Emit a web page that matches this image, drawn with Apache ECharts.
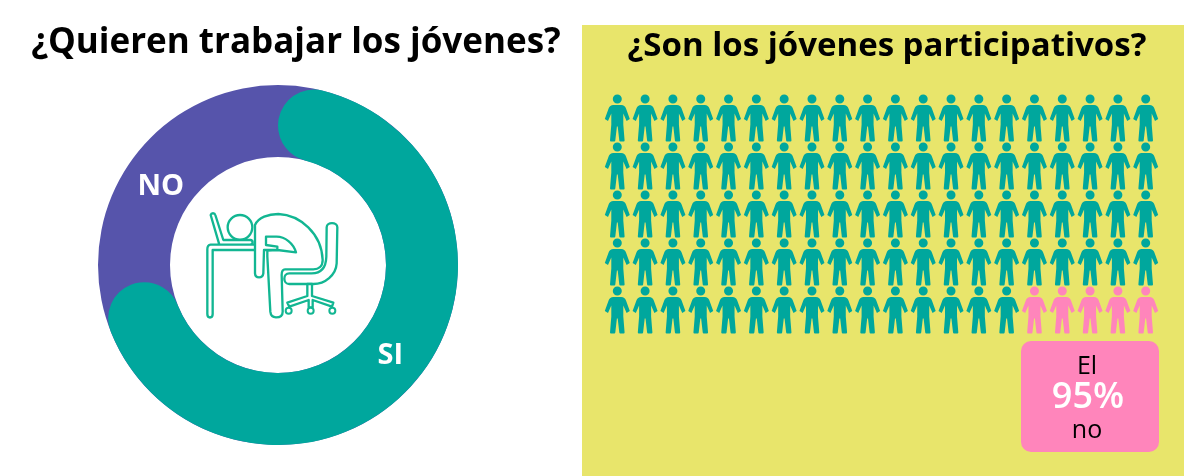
<!DOCTYPE html>
<html>
<head>
<meta charset="utf-8">
<style>
  html, body { margin: 0; padding: 0; background: #fff; }
  #chart { width: 1184px; height: 476px; }
</style>
<script src="https://cdn.jsdelivr.net/npm/echarts@6/dist/echarts.min.js"></script>
</head>
<body>
<div id="chart"></div>
<script>
// datos
const workLabels = ['SI', 'NO'];
const workValues = [73, 27];
const peopleCounts = [95, 5];
const peoplePerRow = 20;
const peopleRows = 5;
const boxLines = ['El', '95%', 'no'];

const TEAL = '#00a79d';
const PURPLE = '#5654ab';
const YELLOW = '#e8e56b';
const PINK = '#ff85bb';
const ICON = '#12b692';
const FONT = '"Open Sans", sans-serif';

// silueta de persona
const PERSON = 'path://M12.5,0 A4.5,4.5 0 1 1 12.5,9 A4.5,4.5 0 1 1 12.5,0 Z ' +
  'M8.5,10.5 L16.5,10.5 Q20,10.5 21.2,14 L25,24.5 L21.8,26.5 L18.5,19 L18.5,30 L19.8,46 Q19.8,47 18.8,47 L15.5,47 Q14.6,47 14.5,46 L12.9,32 L12.1,32 L10.5,46 Q10.4,47 9.5,47 L6.2,47 Q5.2,47 5.2,46 L6.5,30 L6.5,19 L3.2,26.5 L0,24.5 L3.8,14 Q5,10.5 8.5,10.5 Z';

// cuadricula de personas: primero las teal, despues las rosas
const tealPeople = [];
const pinkPeople = [];
for (let i = 0; i < peopleCounts[0] + peopleCounts[1]; i++) {
  const p = [i % peoplePerRow, Math.floor(i / peoplePerRow)];
  (i < peopleCounts[0] ? tealPeople : pinkPeople).push(p);
}

// icono del escritorio, coordenadas en unidades del dibujo
// el componente graphic no acepta type 'path', hay que registrar cada forma
let iconCount = 0;
function iconPath(d) {
  const name = 'iconShape' + (iconCount++);
  echarts.graphic.registerShape(name, echarts.graphic.extendPath(d));
  return {
    type: name,
    style: { fill: '#fff', stroke: ICON, lineWidth: 7, lineJoin: 'round' }
  };
}
function iconWheel(cx) {
  return {
    type: 'circle',
    shape: { cx: cx, cy: 362, r: 9 },
    style: { fill: '#fff', stroke: ICON, lineWidth: 6 }
  };
}

const chart = echarts.init(document.getElementById('chart'));

chart.setOption({
  animation: false,
  backgroundColor: '#fff',
  title: [
    {
      text: '¿Quieren trabajar los jóvenes?',
      left: 291, top: 21, textAlign: 'center',
      textStyle: { fontFamily: FONT, fontSize: 35, fontWeight: 700, color: '#000' }
    },
    {
      text: '¿Son los jóvenes participativos?',
      left: 882, top: 25, textAlign: 'center',
      textStyle: { fontFamily: FONT, fontSize: 33, fontWeight: 700, color: '#000' }
    }
  ],
  grid: { left: 617.3, top: 118, width: 528.4, height: 192 },
  xAxis: { type: 'value', min: 0, max: peoplePerRow - 1, show: false },
  yAxis: { type: 'value', min: 0, max: peopleRows - 1, inverse: true, show: false },
  series: [
    // anillo morado completo debajo, sin costuras
    {
      type: 'pie',
      center: [278, 265],
      radius: [108, 180],
      startAngle: 90,
      silent: true,
      label: { show: false },
      labelLine: { show: false },
      itemStyle: { color: PURPLE },
      data: [{ name: 'total', value: workValues[0] + workValues[1] }]
    },
    {
      type: 'pie',
      center: [278, 265],
      radius: [108, 180],
      startAngle: 90,
      silent: true,
      labelLine: { show: false },
      label: {
        show: true, position: 'inside', color: '#fff',
        fontFamily: FONT, fontSize: 29, fontWeight: 700, formatter: '{b}'
      },
      data: [
        {
          name: workLabels[0], value: workValues[0],
          itemStyle: { color: TEAL, borderRadius: 36 },
          label: { offset: [2, -6] }
        },
        {
          name: workLabels[1], value: workValues[1],
          itemStyle: { color: 'transparent' },
          label: { offset: [-7, 19] }
        }
      ]
    },
    {
      type: 'scatter', symbol: PERSON, symbolSize: [25, 47], silent: true,
      itemStyle: { color: TEAL, opacity: 1 }, data: tealPeople
    },
    {
      type: 'scatter', symbol: PERSON, symbolSize: [25, 47], silent: true,
      itemStyle: { color: PINK, opacity: 1 }, data: pinkPeople
    }
  ],
  graphic: [
    {
      type: 'rect', z: 0,
      shape: { x: 582, y: 25, width: 602, height: 451 },
      style: { fill: YELLOW }
    },
    {
      type: 'rect', z: 1,
      shape: { x: 1021, y: 341, width: 138, height: 111, r: 10 },
      style: { fill: PINK }
    },
    {
      type: 'text', z: 3, x: 1087, y: 367,
      style: { text: boxLines[0], fontFamily: FONT, fontSize: 25, fill: '#000', align: 'center', verticalAlign: 'middle' }
    },
    {
      type: 'text', z: 3, x: 1088, y: 398,
      style: { text: boxLines[1], fontFamily: FONT, fontSize: 36, fontWeight: 600, fill: '#fff', align: 'center', verticalAlign: 'middle' }
    },
    {
      type: 'text', z: 3, x: 1087, y: 431,
      style: { text: boxLines[2], fontFamily: FONT, fontSize: 25, fill: '#000', align: 'center', verticalAlign: 'middle' }
    },
    {
      type: 'group', x: 190, y: 190, scaleX: 1 / 3, scaleY: 1 / 3, z: 3,
      children: [
        // respaldo y asiento
        iconPath('M410,112 C410,95 442,95 442,112 L440,220 C438,255 405,282 370,282 L298,282 C278,282 278,250 298,250 L365,250 C395,250 408,230 409,200 Z'),
        // patas de la silla
        iconPath('M352,282 L366,282 L366,318 L430,338 L426,350 L368,330 L368,352 L356,352 L356,330 L298,350 L292,338 L352,318 Z'),
        iconWheel(296), iconWheel(362), iconWheel(427),
        // mesa y portatil
        iconPath('M62,75 C64,68 74,68 76,75 L100,150 L182,150 C190,152 190,162 182,163 L62,164 C54,165 52,170 52,178 L52,372 C52,386 68,386 68,372 L68,180 L196,180 L196,164 L88,164 Z'),
        // cabeza
        { type: 'circle', shape: { cx: 150, cy: 112, r: 37 }, style: { fill: '#fff', stroke: ICON, lineWidth: 7 } },
        // cuerpo y brazo
        iconPath('M195,105 C205,82 235,72 265,72 C330,75 395,130 398,210 C398,230 385,238 370,238 L285,238 C276,238 275,245 275,255 L278,365 C278,378 268,382 258,382 C248,382 242,375 241,365 L232,200 L232,182 L262,180 L318,187 C310,160 285,140 260,140 L228,140 L228,165 L262,170 L262,180 L222,180 L220,250 C218,266 196,266 195,250 Z')
      ]
    }
  ]
});
</script>
</body>
</html>
